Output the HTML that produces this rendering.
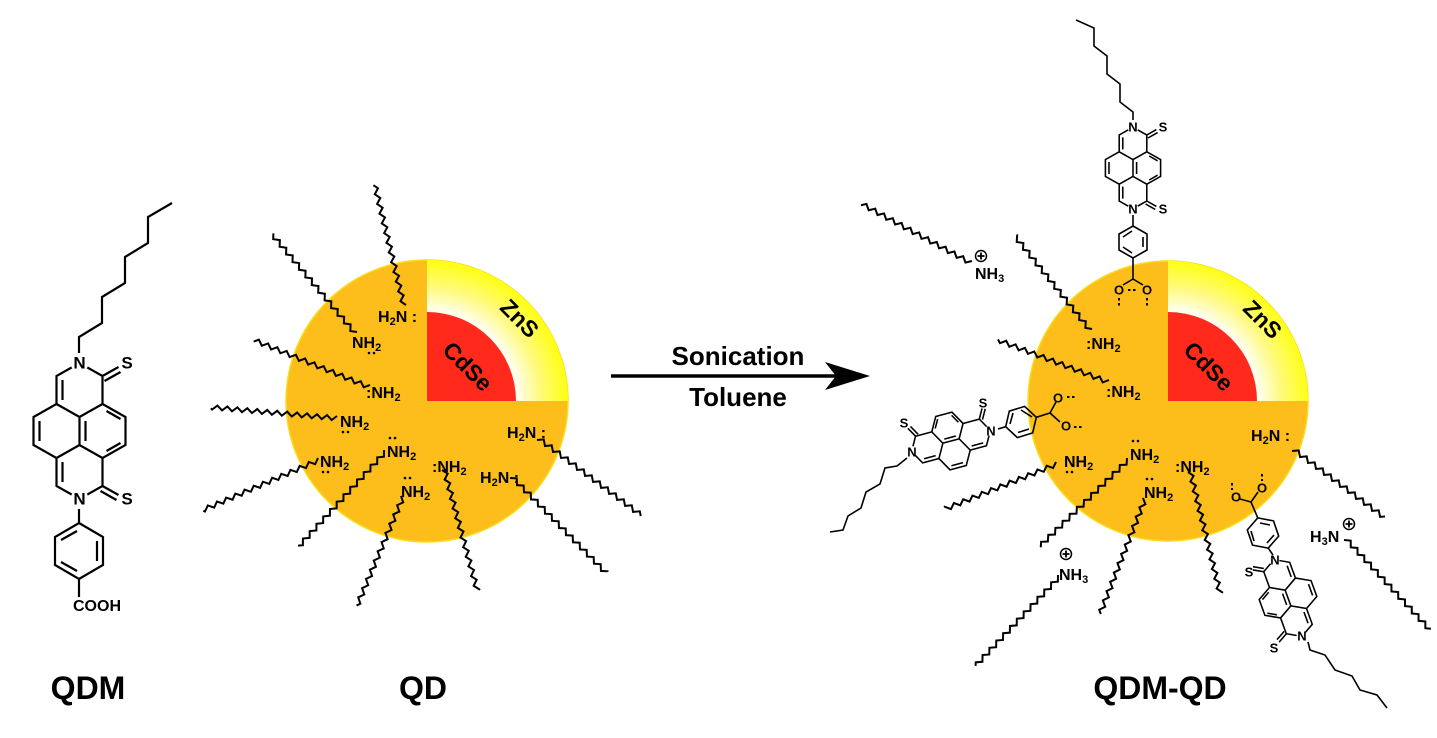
<!DOCTYPE html>
<html><head><meta charset="utf-8"><style>
html,body{margin:0;padding:0;background:#fff;}
svg{display:block;font-family:"Liberation Sans",Arial,sans-serif;font-weight:bold;}
</style></head><body>
<svg width="1437" height="738" viewBox="0 0 1437 738" xmlns="http://www.w3.org/2000/svg">
<defs>
<radialGradient id="zg" gradientUnits="userSpaceOnUse" cx="0" cy="0" r="141">
<stop offset="0.62" stop-color="#ffffff"/><stop offset="0.8" stop-color="#fffa80"/><stop offset="1" stop-color="#ffff10"/></radialGradient>
<path id="zz" fill="none" d="M0 0 l5 -4.5 l5 4.5 l5 -4.5 l5 4.5 l5 -4.5 l5 4.5 l5 -4.5 l5 4.5 l5 -4.5 l5 4.5 l5 -4.5 l5 4.5 l5 -4.5 l5 4.5 l5 -4.5 l5 4.5 l5 -4.5 l5 4.5 l5 -4.5 l5 4.5 l5 -4.5 l5 4.5 l5 -4.5 l5 4.5 l5 -4.5 l5 4.5 l5 -4.5 l5 4.5 l5 -4.5 l5 4.5 l5 -4.5 l5 4.5 l5 -4.5 l5 4.5 l5 -4.5 l5 4.5 l5 -4.5 l5 4.5 l5 -4.5 l5 4.5"/>
<g id="core">
<path fill="none" d="M0,-68 L-23,-55 L-23,-27 L-46,-14 L-46,14 L-23,27 L-23,55 L0,68 L23,55 L23,27 L46,14 L46,-14 L23,-27 L23,-55 Z M-23,-27 L0,-14 L23,-27 M0,-14 L0,14 M-23,27 L0,14 L23,27 M23,-55 L39,-64 M25,-50 L41,-59 M23,55 L39,64 M21,60 L37,69 M-17,-51 L-17,-31 M-40,-10 L-40,10 M-17,31 L-17,51 M6,-10 L6,10 M27,-20 L41,-12 M27,20 L41,12"/>
<circle cx="0" cy="-68" r="9" fill="#fff" stroke="none"/>
<circle cx="0" cy="68" r="9" fill="#fff" stroke="none"/>
</g>
<g id="plus"><circle r="5.5" fill="#fff" stroke="#000" stroke-width="1.5"/><path d="M-3.5 0 H3.5 M0 -3.5 V3.5" stroke="#000" stroke-width="1.8"/></g>
</defs>

<!-- ===== QDM ===== -->
<g stroke="#000" stroke-width="2.2" fill="none">
<polyline points="79,353 79,337 102,323 102,297 125,283 125,257 148,243 148,217 172,203"/>
<use href="#core" transform="translate(79.5,431)"/>
<line x1="79" y1="509" x2="79" y2="523"/>
<polygon points="79,523 103,537 103,565 79,579 55,565 55,537"/>
<path d="M97,541 L97,561 M61,540 L77,531 M61,562 L77,571"/>
<line x1="79" y1="579" x2="79" y2="597"/>
</g>
<g font-size="17" text-anchor="middle" dominant-baseline="central">
<text x="79.5" y="363">N</text><text x="79.5" y="499">N</text>
<text x="127" y="363">S</text><text x="127" y="499">S</text>
</g>
<text x="73" y="611" font-size="16">COOH</text>
<text x="88" y="699" font-size="32" text-anchor="middle">QDM</text>

<!-- ===== QD ===== -->
<circle cx="427" cy="401" r="141" fill="#fdbd1b" stroke="#f7dd20" stroke-width="1.5"/>
<path transform="translate(427,401)" d="M0,0 L0,-141 A141,141 0 0 1 141,0 Z" fill="url(#zg)"/>
<path d="M427,401 L427,312 A89,89 0 0 1 516,401 Z" fill="#ff2a1c"/>
<text font-size="23" transform="translate(514,324) rotate(45)" text-anchor="middle">ZnS</text>
<text font-size="23" transform="translate(462,372) rotate(45)" text-anchor="middle">CdSe</text>
<g stroke="#000" stroke-width="2">
<use href="#zz" transform="translate(406,305) rotate(-103.5)" stroke-dasharray="167 999"/>
<use href="#zz" transform="translate(357,332) rotate(-130)" stroke-dasharray="174 999"/>
<use href="#zz" transform="translate(370,385) rotate(-157.8)" stroke-dasharray="167 999"/>
<use href="#zz" transform="translate(337,416) rotate(-175)" stroke-dasharray="170 999"/>
<use href="#zz" transform="translate(318,458) rotate(156.7)" stroke-dasharray="170 999"/>
<use href="#zz" transform="translate(384,450) rotate(132.5)" stroke-dasharray="173 999"/>
<use href="#zz" transform="translate(401,496) rotate(112.9)" stroke-dasharray="159 999"/>
<use href="#zz" transform="translate(442,470) rotate(74.7)" stroke-dasharray="169 999"/>
<use href="#zz" transform="translate(537,440) rotate(36.8)" stroke-dasharray="173 999"/>
<use href="#zz" transform="translate(510,478) rotate(45.6)" stroke-dasharray="182 999"/>
</g>
<g font-size="16">
<text x="378" y="322">H<tspan font-size="11" dy="3">2</tspan><tspan dy="-3">N :</tspan></text>
<text x="352" y="348">NH<tspan font-size="11" dy="3">2</tspan></text>
<text x="366" y="398">:NH<tspan font-size="11" dy="3">2</tspan></text>
<text x="340" y="427">NH<tspan font-size="11" dy="3">2</tspan></text>
<text x="387" y="457">NH<tspan font-size="11" dy="3">2</tspan></text>
<text x="320" y="467">NH<tspan font-size="11" dy="3">2</tspan></text>
<text x="432" y="472">:NH<tspan font-size="11" dy="3">2</tspan></text>
<text x="401" y="497">NH<tspan font-size="11" dy="3">2</tspan></text>
<text x="507" y="438">H<tspan font-size="11" dy="3">2</tspan><tspan dy="-3">N :</tspan></text>
<text x="480" y="483">H<tspan font-size="11" dy="3">2</tspan><tspan dy="-3">N :</tspan></text>
</g>
<g fill="#000">
<circle cx="369" cy="353" r="1.3"/><circle cx="374" cy="353" r="1.3"/>
<circle cx="343" cy="432" r="1.3"/><circle cx="348" cy="432" r="1.3"/>
<circle cx="390" cy="438" r="1.3"/><circle cx="395" cy="438" r="1.3"/>
<circle cx="323" cy="472" r="1.3"/><circle cx="328" cy="472" r="1.3"/>
<circle cx="405" cy="478" r="1.3"/><circle cx="410" cy="478" r="1.3"/>
</g>
<text x="423" y="699" font-size="32" text-anchor="middle">QD</text>

<!-- ===== Arrow ===== -->
<line x1="611" y1="376" x2="840" y2="376" stroke="#000" stroke-width="3.5"/>
<path d="M870,376 L825,362 L836,376 L825,390 Z" fill="#000"/>
<text x="738" y="365" font-size="26" text-anchor="middle">Sonication</text>
<text x="738" y="406" font-size="26" text-anchor="middle">Toluene</text>

<!-- ===== QDM-QD ===== -->
<circle cx="1168" cy="401" r="140" fill="#fdbd1b" stroke="#f7dd20" stroke-width="1.5"/>
<path transform="translate(1168,401)" d="M0,0 L0,-140 A140,140 0 0 1 140,0 Z" fill="url(#zg)"/>
<path d="M1168,401 L1168,312 A89,89 0 0 1 1257,401 Z" fill="#ff2a1c"/>
<text font-size="23" transform="translate(1257,325) rotate(45)" text-anchor="middle">ZnS</text>
<text font-size="23" transform="translate(1203,372) rotate(45)" text-anchor="middle">CdSe</text>
<g stroke="#000" stroke-width="2">
<use href="#zz" transform="translate(972,261) rotate(-151.6)" stroke-dasharray="167 999"/>
<use href="#zz" transform="translate(1092,329) rotate(-128.6)" stroke-dasharray="162 999"/>
<use href="#zz" transform="translate(1109,380) rotate(-159.1)" stroke-dasharray="159 999"/>
<use href="#zz" transform="translate(1056,462) rotate(158.1)" stroke-dasharray="162 999"/>
<use href="#zz" transform="translate(1127,458) rotate(135.7)" stroke-dasharray="167 999"/>
<use href="#zz" transform="translate(1143,498) rotate(111.4)" stroke-dasharray="166 999"/>
<use href="#zz" transform="translate(1188,472) rotate(76.2)" stroke-dasharray="169 999"/>
<use href="#zz" transform="translate(1292,451) rotate(36.8)" stroke-dasharray="153 999"/>
<use href="#zz" transform="translate(1344,540) rotate(47.3)" stroke-dasharray="167 999"/>
<use href="#zz" transform="translate(1058,575) rotate(133.3)" stroke-dasharray="165 999"/>
</g>
<g font-size="16">
<text x="975" y="279">NH<tspan font-size="11" dy="3">3</tspan></text>
<text x="1086" y="349">:NH<tspan font-size="11" dy="3">2</tspan></text>
<text x="1106" y="397">:NH<tspan font-size="11" dy="3">2</tspan></text>
<text x="1064" y="467">NH<tspan font-size="11" dy="3">2</tspan></text>
<text x="1130" y="460">NH<tspan font-size="11" dy="3">2</tspan></text>
<text x="1144" y="498">NH<tspan font-size="11" dy="3">2</tspan></text>
<text x="1175" y="472">:NH<tspan font-size="11" dy="3">2</tspan></text>
<text x="1251" y="441">H<tspan font-size="11" dy="3">2</tspan><tspan dy="-3">N :</tspan></text>
<text x="1310" y="542">H<tspan font-size="11" dy="3">3</tspan><tspan dy="-3">N</tspan></text>
<text x="1059" y="580">NH<tspan font-size="11" dy="3">3</tspan></text>
</g>
<g fill="#000">
<circle cx="1067" cy="472" r="1.3"/><circle cx="1072" cy="472" r="1.3"/>
<circle cx="1133" cy="441" r="1.3"/><circle cx="1138" cy="441" r="1.3"/>
<circle cx="1147" cy="479" r="1.3"/><circle cx="1152" cy="479" r="1.3"/>
</g>
<use href="#plus" transform="translate(981,256)"/>
<use href="#plus" transform="translate(1349,524)"/>
<use href="#plus" transform="translate(1066,554)"/>

<!-- top QDM -->
<g stroke="#000" stroke-width="1.6" fill="none">
<polyline points="1133,120 1133,112 1120,102 1120,84 1107,74 1107,56 1094,46 1094,28 1076,20"/>
<use href="#core" stroke-width="2.6" transform="translate(1133,168) scale(0.6)"/>
<line x1="1133" y1="215" x2="1133" y2="226"/>
<polygon points="1133,226 1147,234 1147,250 1133,258 1119,250 1119,234"/>
<path d="M1143,237 L1143,247 M1123,237 L1132,231 M1123,247 L1132,253"/>
<path d="M1133,258 L1133,279 M1133,279 L1123,285 M1133,279 L1143,285"/>
<path d="M1119,298 L1119,308 M1147,298 L1147,308 M1128,290 L1138,290" stroke-dasharray="2.5 2.5" stroke-width="2"/>
</g>
<g font-size="13" text-anchor="middle" dominant-baseline="central">
<text x="1133" y="127">N</text><text x="1133" y="209">N</text>
<text x="1163" y="127">S</text><text x="1163" y="209">S</text>
<text x="1119" y="290">O</text><text x="1147" y="290">O</text>
</g>

<!-- left QDM -->
<g stroke="#000" stroke-width="1.6" fill="none">
<polyline points="907,458 897,466 885,468 880,484 866,492 861,508 848,516 843,530 830,532"/>
<use href="#core" stroke-width="2.6" transform="translate(951,441) rotate(-105) scale(0.6)"/>
<line x1="998" y1="429" x2="1005.7" y2="426.7"/>
<polygon points="1036.3,417.3 1032.7,432.9 1017.4,437.6 1005.7,426.7 1009.3,411.1 1024.6,406.4"/>
<path d="M1029,429 L1018,432.5 M1010,424 L1013,413 M1021,410 L1032,417"/>
<path d="M1036.3,417.3 L1050,413 L1056,402 M1050,413 L1060,422"/>
<path d="M1067,397 L1075,397 M1074,427 L1082,427" stroke-dasharray="2.5 2.5" stroke-width="2"/>
</g>
<g font-size="13" text-anchor="middle" dominant-baseline="central">
<text x="912" y="452">N</text><text x="991" y="431">N</text>
<text x="904" y="423">S</text><text x="983" y="403">S</text>
<text x="1058" y="398">O</text><text x="1066" y="426">O</text>
</g>

<!-- bottom-right QDM -->
<g stroke="#000" stroke-width="1.6" fill="none">
<polyline points="1308,642 1310,650 1325,655 1335,670 1352,676 1360,690 1377,695 1387,708"/>
<use href="#core" stroke-width="2.6" transform="translate(1288,598) rotate(160) scale(0.6)"/>
<line x1="1273" y1="555" x2="1268.2" y2="548.1"/>
<polygon points="1257.8,517.9 1273.5,520.9 1278.7,536.1 1268.2,548.1 1252.5,545.1 1247.3,529.9"/>
<path d="M1260,523 L1270,525 M1274,535 L1267,543 M1251,531 L1254,541"/>
<path d="M1257.8,517.9 L1251,502 L1240,499 M1251,502 L1258,492"/>
<path d="M1232,483 L1232,490 M1262,474 L1262,481" stroke-dasharray="2.5 2.5" stroke-width="2"/>
</g>
<g font-size="13" text-anchor="middle" dominant-baseline="central">
<text x="1302" y="636">N</text><text x="1275" y="560">N</text>
<text x="1249" y="572">S</text><text x="1274" y="648">S</text>
<text x="1236" y="497">O</text><text x="1262" y="488">O</text>
</g>

<text x="1160" y="699" font-size="32" text-anchor="middle">QDM-QD</text>
</svg>
</body></html>
